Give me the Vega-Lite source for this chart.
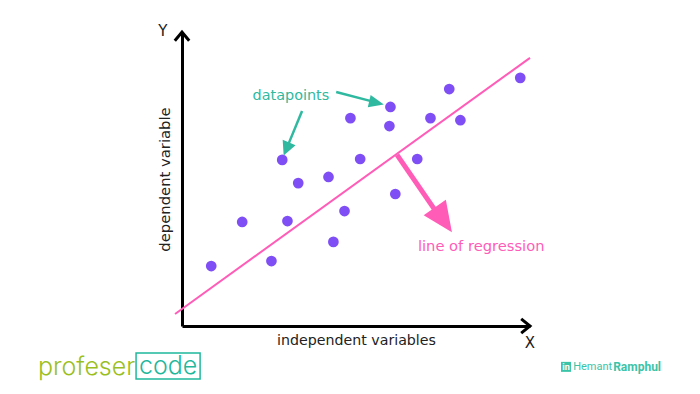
{"$schema":"https://vega.github.io/schema/vega-lite/v6.json","width":348,"height":294,"autosize":{"type":"none"},"padding":{"left":182,"top":32,"right":170,"bottom":68},"background":"white","view":{"stroke":null},
"config":{"axis":{"grid":false,"ticks":false,"labels":false,"domain":true,"domainColor":"black","domainWidth":3,"titleColor":"#222222","titleFont":"DejaVu Sans","titleFontWeight":"normal"}},
"datasets":{
"points":[{"x":8.4,"y":20.4},{"x":17.3,"y":35.4},{"x":25.7,"y":22.1},{"x":30.3,"y":35.7},{"x":28.8,"y":56.5},{"x":33.4,"y":48.6},{"x":42.1,"y":50.7},{"x":43.5,"y":28.6},{"x":46.7,"y":39.1},{"x":48.4,"y":70.7},{"x":51.2,"y":56.8},{"x":59.9,"y":74.5},{"x":59.6,"y":68},{"x":61.3,"y":44.9},{"x":67.6,"y":56.8},{"x":71.4,"y":70.7},{"x":76.8,"y":80.6},{"x":80,"y":70},{"x":97.2,"y":84.4}],
"regression":[{"x":-2,"y":4.1},{"x":100,"y":91.2}],
"stem":[{"x":61.8,"y":58.2},{"x":73.3,"y":38.4}],
"teal1":[{"x":44.3,"y":79.6},{"x":54.6,"y":76.4}],
"teal2":[{"x":34.5,"y":73.1},{"x":30.7,"y":62.2}]
},
"encoding":{"x":{"field":"x","type":"quantitative","scale":{"domain":[0,100],"nice":false,"zero":false},"axis":{"title":"independent variables","titlePadding":7,"titleFontSize":14.2}},"y":{"field":"y","type":"quantitative","scale":{"domain":[0,100],"nice":false,"zero":false},"axis":{"title":"dependent variable","titlePadding":10,"titleFontSize":14.8}}},
"layer":[
{"data":{"name":"regression"},"mark":{"type":"line","color":"#FF5CB8","strokeWidth":2,"clip":false}},
{"data":{"name":"points"},"mark":{"type":"circle","color":"#7F4FF5","opacity":1,"size":115}},
{"data":{"name":"stem"},"mark":{"type":"line","color":"#FF5CB8","strokeWidth":5}},
{"data":{"values":[{"x":75.1,"y":36.1}]},"mark":{"type":"point","filled":true,"opacity":1,"color":"#FF5CB8","size":3600,"angle":145,"shape":"M-0.45,0.5L0,-0.5L0.45,0.5Z"}},
{"data":{"name":"teal1"},"mark":{"type":"line","color":"#2FB9A0","strokeWidth":2.5}},
{"data":{"values":[{"x":55.9,"y":75.9}]},"mark":{"type":"point","filled":true,"opacity":1,"color":"#2FB9A0","size":900,"angle":103,"shape":"M-0.42,0.5L0,-0.5L0.42,0.5Z"}},
{"data":{"name":"teal2"},"mark":{"type":"line","color":"#2FB9A0","strokeWidth":2.5}},
{"data":{"values":[{"x":30,"y":60.2}]},"mark":{"type":"point","filled":true,"opacity":1,"color":"#2FB9A0","size":784,"angle":203,"shape":"M-0.5,0.5L0,-0.5L0.5,0.5Z"}},
{"data":{"values":[{"x":0,"y":100}]},"mark":{"type":"point","filled":false,"opacity":1,"color":"black","strokeWidth":3,"size":1024,"shape":"M-0.45,0.55L0,0L0.45,0.55"}},
{"data":{"values":[{"x":100,"y":0}]},"mark":{"type":"point","filled":false,"opacity":1,"color":"black","strokeWidth":3,"size":1024,"angle":90,"shape":"M-0.45,0.55L0,0L0.45,0.55"}},
{"data":{"values":[{"x":100,"y":-5.8,"label":"X"},{"x":-5.5,"y":100.3,"label":"Y"}]},"mark":{"type":"text","font":"DejaVu Sans","fontSize":15,"color":"#222222","align":"center","baseline":"middle"},"encoding":{"text":{"field":"label"}}},
{"data":{"values":[{"x":31.3,"y":78.2,"label":"datapoints"}]},"mark":{"type":"text","font":"DejaVu Sans","fontSize":14.4,"color":"#2FB9A0","align":"center","baseline":"middle"},"encoding":{"text":{"field":"label"}}},
{"data":{"values":[{"x":67.8,"y":26.9,"label":"line of regression"}]},"mark":{"type":"text","font":"DejaVu Sans","fontSize":14.7,"color":"#FF5CB8","align":"left","baseline":"middle"},"encoding":{"text":{"field":"label"}}},
{"data":{"values":[{"x":-41.4,"y":-13.9,"label":"profeser"}]},"mark":{"type":"text","font":"Inter","fontWeight":300,"fontSize":25,"color":"#9BBF1E","align":"left","baseline":"middle"},"encoding":{"text":{"field":"label"}}},
{"data":{"values":[{"x":-13.2,"x2":5.2,"y":-9.2,"y2":-18}]},"mark":{"type":"rect","filled":false,"stroke":"#1FB89C","strokeWidth":1.5,"opacity":1},"encoding":{"x2":{"field":"x2"},"y2":{"field":"y2"}}},
{"data":{"values":[{"x":-4,"y":-13.7,"label":"code"}]},"mark":{"type":"text","font":"Inter","fontWeight":300,"fontSize":25,"color":"#1FB89C","align":"center","baseline":"middle"},"encoding":{"text":{"field":"label"}}},
{"data":{"values":[{"x":108.9,"x2":111.8,"y":-12.2,"y2":-15.6}]},"mark":{"type":"rect","color":"#3CC4A8","opacity":1},"encoding":{"x2":{"field":"x2"},"y2":{"field":"y2"}}},
{"data":{"values":[{"x":110.35,"y":-14,"label":"in"}]},"mark":{"type":"text","font":"Roboto","fontWeight":"bold","fontSize":9,"color":"white","align":"center","baseline":"middle"},"encoding":{"text":{"field":"label"}}},
{"data":{"values":[{"x":112.4,"y":-14,"label":"Hemant"}]},"mark":{"type":"text","font":"Roboto","fontSize":11,"color":"#3CC4A8","align":"left","baseline":"middle"},"encoding":{"text":{"field":"label"}}},
{"data":{"values":[{"x":123.9,"y":-14,"label":"Ramphul"}]},"mark":{"type":"text","font":"Roboto","fontWeight":"bold","fontSize":12,"color":"#3CC4A8","align":"left","baseline":"middle"},"encoding":{"text":{"field":"label"}}}
]}
